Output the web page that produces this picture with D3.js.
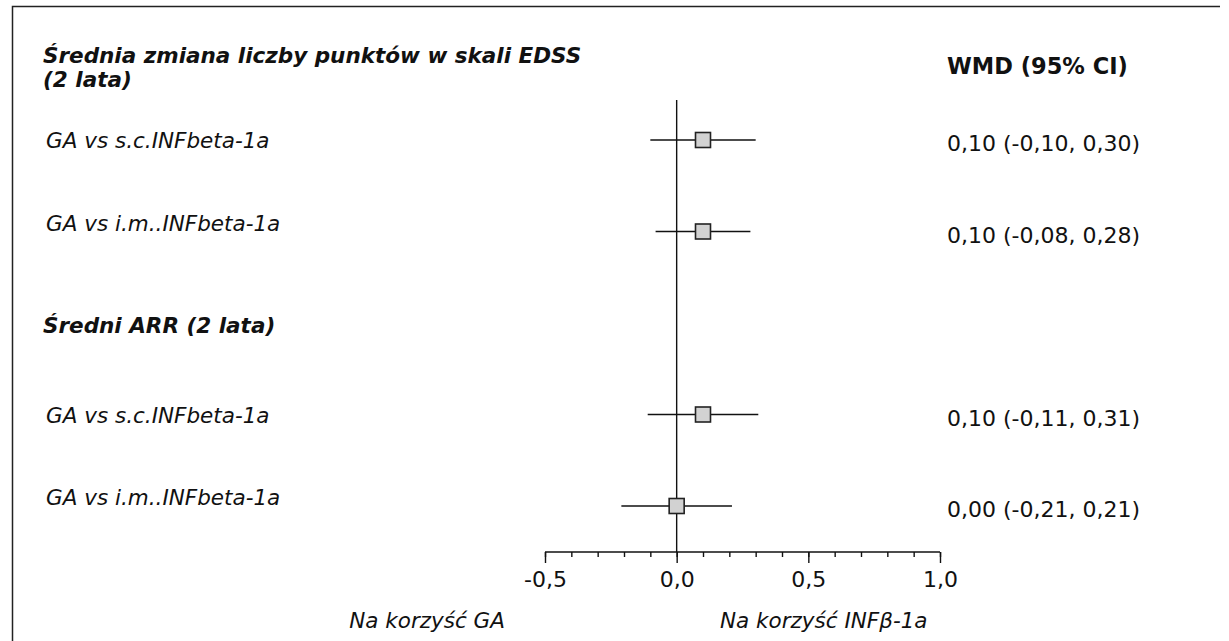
<!DOCTYPE html>
<html>
<head>
<meta charset="utf-8">
<script src="https://cdn.jsdelivr.net/npm/d3@7"></script>
<style>
  html, body { margin: 0; padding: 0; background: #fff; }
  svg { display: block; font-family: "DejaVu Sans", Verdana, sans-serif; }
</style>
</head>
<body>
<svg id="chart" width="1229" height="641"></svg>
<script>
// dane
const rowLabels = ['GA vs s.c.INFbeta-1a', 'GA vs i.m..INFbeta-1a', 'GA vs s.c.INFbeta-1a', 'GA vs i.m..INFbeta-1a']
const rowSlots = [1, 2, 4, 5]
const estimates = [0.10, 0.10, 0.10, 0.00]
const lowerCI = [-0.10, -0.08, -0.11, -0.21]
const upperCI = [0.30, 0.28, 0.31, 0.21]
const ciLabels = ['0,10 (-0,10, 0,30)', '0,10 (-0,08, 0,28)', '0,10 (-0,11, 0,31)', '0,00 (-0,21, 0,21)']
const groupTitles = [['Średnia zmiana liczby punktów w skali EDSS', '(2 lata)'], ['Średni ARR (2 lata)']]
const groupSlots = [0, 3]
const xTicks = [-0.5, 0, 0.5, 1.0]
const xDomain = [-0.5, 1.0]
const favourLeft = 'Na korzyść GA'
const favourRight = 'Na korzyść INFβ-1a'
const statHeader = 'WMD (95% CI)'

const svg = d3.select('#chart')
const ink = '#111'

const x = d3.scaleLinear().domain(xDomain).range([545, 940])
const y = d3.scaleLinear().domain([1, 5]).range([140, 506])
const axisY = 552

// ramka (tylko góra i lewa strona widoczne)
svg.append('path')
    .attr('d', 'M12.5,641 V6.5 H1220')
    .attr('fill', 'none')
    .attr('stroke', '#222')
    .attr('stroke-width', 1.5)

// linia zerowa
svg.append('line')
    .attr('x1', x(0)).attr('x2', x(0))
    .attr('y1', 100).attr('y2', axisY)
    .attr('stroke', ink)
    .attr('stroke-width', 1.4)

// oś X z podziałką co 0,1
const fmt = d => d3.format('.1f')(d).replace('.', ',').replace('−', '-')
const axis = svg.append('g')
    .attr('transform', `translate(0,${axisY})`)
    .call(d3.axisBottom(x).tickValues(d3.range(-5, 11).map(i => i / 10)).tickSize(5).tickFormat(''))
axis.select('.domain').attr('stroke', ink).attr('stroke-width', 1.4).attr('d', `M${x(-0.5)},0H${x(1)}`)
axis.selectAll('.tick line').attr('stroke', ink).attr('stroke-width', 1.4)

const major = svg.append('g')
    .attr('transform', `translate(0,${axisY})`)
    .call(d3.axisBottom(x).tickValues(xTicks).tickSize(11).tickPadding(8).tickFormat(fmt))
major.select('.domain').remove()
major.selectAll('.tick line').attr('stroke', ink).attr('stroke-width', 1.4)
major.selectAll('.tick text')
    .attr('fill', ink)
    .style('font-size', '22px')
    .style('font-family', '"DejaVu Sans", Verdana, sans-serif')

// tytuły grup
groupTitles.forEach((lines, gi) => {
    const top = gi === 0 ? 63 : y(groupSlots[gi]) + 10
    lines.forEach((t, li) => {
        svg.append('text')
            .attr('x', 43)
            .attr('y', top + li * 24)
            .attr('fill', ink)
            .style('font-size', '21.5px')
            .style('font-weight', 'bold')
            .style('font-style', 'italic')
            .text(t)
    })
})

svg.append('text')
    .attr('x', 947).attr('y', 74)
    .attr('fill', ink)
    .style('font-size', '22.5px')
    .style('font-weight', 'bold')
    .text(statHeader)

// wiersze
const rows = rowLabels.map((label, i) => ({
    label, slot: rowSlots[i], est: estimates[i], lo: lowerCI[i], hi: upperCI[i], ci: ciLabels[i]
}))

const g = svg.append('g')
g.selectAll('.lbl').data(rows).enter().append('text')
    .attr('class', 'lbl')
    .attr('x', 46)
    .attr('y', d => y(d.slot) + (d.slot % 3 === 1 ? 8 : -1))
    .attr('fill', ink)
    .style('font-size', '21.5px')
    .style('font-style', 'italic')
    .text(d => d.label)

g.selectAll('.ci').data(rows).enter().append('line')
    .attr('class', 'ci')
    .attr('x1', d => x(d.lo)).attr('x2', d => x(d.hi))
    .attr('y1', d => y(d.slot)).attr('y2', d => y(d.slot))
    .attr('stroke', ink)
    .attr('stroke-width', 1.4)

const sq = 15
g.selectAll('.pt').data(rows).enter().append('rect')
    .attr('class', 'pt')
    .attr('x', d => x(d.est) - sq / 2)
    .attr('y', d => y(d.slot) - sq / 2)
    .attr('width', sq).attr('height', sq)
    .attr('fill', '#d2d2d2')
    .attr('stroke', '#222')
    .attr('stroke-width', 1.6)

g.selectAll('.val').data(rows).enter().append('text')
    .attr('class', 'val')
    .attr('x', 947)
    .attr('y', d => y(d.slot) + 11)
    .attr('fill', ink)
    .style('font-size', '22px')
    .text(d => d.ci)

// opisy kierunku efektu
svg.append('text')
    .attr('x', 505).attr('y', 628)
    .attr('text-anchor', 'end')
    .attr('fill', ink)
    .style('font-size', '21.5px')
    .style('font-style', 'italic')
    .text(favourLeft)

svg.append('text')
    .attr('x', 720).attr('y', 628)
    .attr('fill', ink)
    .style('font-size', '21.5px')
    .style('font-style', 'italic')
    .text(favourRight)
</script>
</body>
</html>
